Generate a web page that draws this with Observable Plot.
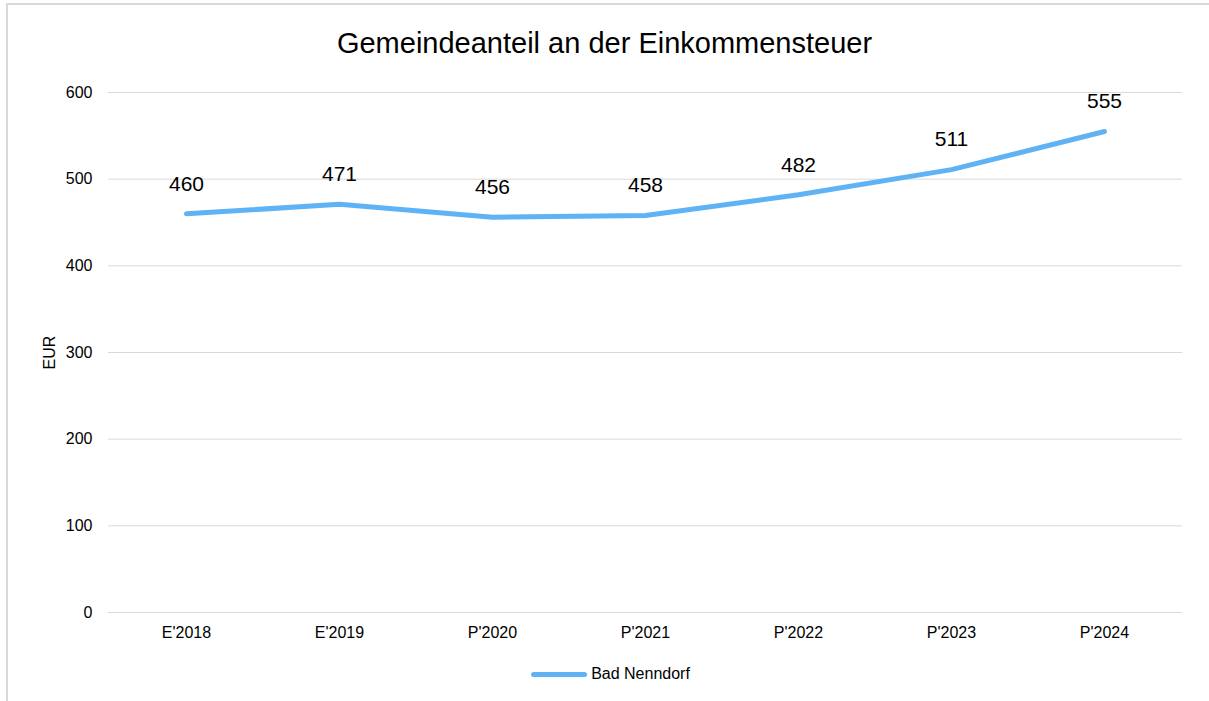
<!DOCTYPE html>
<html>
<head>
<meta charset="utf-8">
<script src="https://cdn.jsdelivr.net/npm/d3@7"></script>
<script src="https://cdn.jsdelivr.net/npm/@observablehq/plot@0.6"></script>
<style>
  html, body { margin: 0; padding: 0; background: #fff; }
  body { width: 1209px; height: 701px; overflow: hidden; position: relative; font-family: "Liberation Sans", Arial, sans-serif; }
  #frame { position: absolute; left: 6px; top: 3px; width: 1220px; height: 740px; border-left: 2px solid #d9d9d9; border-top: 2px solid #d9d9d9; box-sizing: border-box; }
  #title { position: absolute; left: 0; top: 25px; width: 1209px; text-align: center; font-size: 29px; color: #000; line-height: 36px; }
  #chart { position: absolute; left: 0; top: 70px; }
  #legend { position: absolute; left: 0; top: 664px; width: 1209px; height: 20px; line-height: 20px; display: flex; justify-content: center; align-items: center; font-size: 16px; color: #000; }
  #legend .sw { width: 56px; height: 5px; border-radius: 3px; background: #5fb3f4; margin-right: 4px; margin-left: 12px; }
</style>
</head>
<body>
<div id="frame"></div>
<div id="title">Gemeindeanteil an der Einkommensteuer</div>
<div id="chart"></div>
<div id="legend"><span class="sw"></span><span>Bad Nenndorf</span></div>
<script>
const categories = ["E'2018", "E'2019", "P'2020", "P'2021", "P'2022", "P'2023", "P'2024"];
const values = [460, 471, 456, 458, 482, 511, 555];
const yTicks = [0, 100, 200, 300, 400, 500, 600];
const seriesName = "Bad Nenndorf";

const data = categories.map((c, i) => ({ cat: c, value: values[i], series: seriesName }));

const chart = Plot.plot({
  width: 1209,
  height: 572,
  marginLeft: 108,
  marginRight: 27,
  marginTop: 22,
  marginBottom: 30,
  style: { fontFamily: "'Liberation Sans', Arial, sans-serif", fontSize: "16px", color: "#000", background: "transparent", overflow: "visible" },
  x: { type: "point", domain: categories, padding: 0.5, label: null },
  y: { domain: [0, 600], label: null },
  marks: [
    Plot.gridY(yTicks, { stroke: "#d9d9d9", strokeOpacity: 1, strokeWidth: 1 }),
    Plot.axisY(yTicks, { tickSize: 0, tickPadding: 16, fontSize: 16, label: "EUR", labelAnchor: "center", labelOffset: 65, labelArrow: "none" }),
    Plot.axisX({ tickSize: 0, tickPadding: 14, fontSize: 16, label: null }),
    Plot.line(data, { x: "cat", y: "value", stroke: "#5fb3f4", strokeWidth: 5, strokeLinecap: "round", strokeLinejoin: "round" }),
    Plot.text(data, { x: "cat", y: "value", text: d => String(d.value), dy: -30, fontSize: 21, fill: "#000" })
  ]
});
document.getElementById("chart").appendChild(chart);
</script>
</body>
</html>
